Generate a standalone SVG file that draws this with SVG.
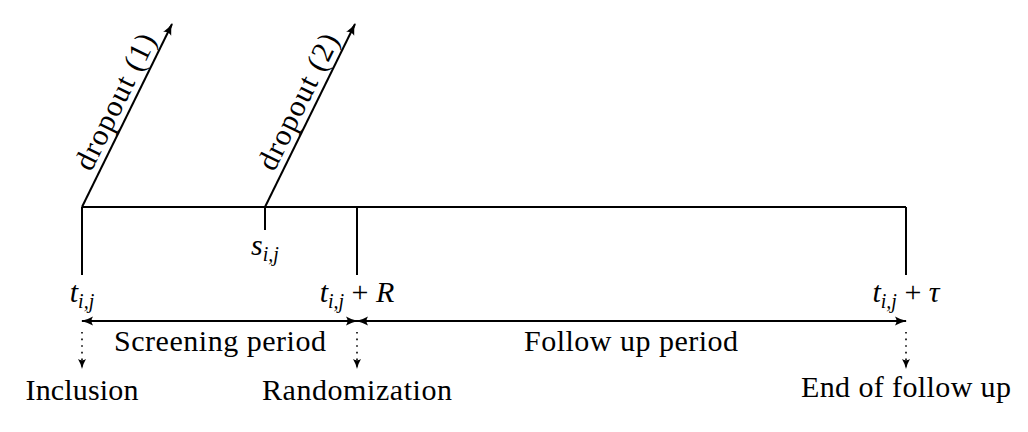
<svg xmlns="http://www.w3.org/2000/svg" width="1028" height="432" viewBox="0 0 1028 432">
<style>
  .ln { stroke: #000; stroke-width: 2; fill: none; }
  .dot { stroke: #000; stroke-width: 1.6; fill: none; stroke-dasharray: 1.6 5; }
</style>
<defs>
  <marker id="ah" viewBox="0 0 12 10" refX="11" refY="5" markerWidth="12" markerHeight="10" markerUnits="userSpaceOnUse" orient="auto-start-reverse">
    <path d="M0,0.5 Q6,4 12,5 Q6,6 0,9.5 Q3,5 0,0.5 Z" fill="#000"/>
  </marker>
  <marker id="ahs" viewBox="0 0 10 10" refX="9" refY="5" markerWidth="10" markerHeight="10" markerUnits="userSpaceOnUse" orient="auto">
    <path d="M0,1 Q5,4 10,5 Q5,6 0,9 Q2.5,5 0,1 Z" fill="#000"/>
  </marker>
</defs>
<g id="timeline">
  <path class="ln" d="M82,207 H906 M82,207 V275 M357,207 V275 M906,207 V275 M265,207 V230"/>
</g>
<g id="connectors">
  <line class="ln" x1="82" y1="207" x2="172" y2="24" marker-end="url(#ah)"/>
  <line class="ln" x1="265" y1="207" x2="355" y2="24" marker-end="url(#ah)"/>
  <line class="ln" x1="82" y1="321" x2="357" y2="321" marker-start="url(#ah)" marker-end="url(#ah)"/>
  <line class="ln" x1="357" y1="321" x2="906" y2="321" marker-start="url(#ah)" marker-end="url(#ah)"/>
  <line class="dot" x1="82" y1="332" x2="82" y2="368" marker-end="url(#ahs)"/>
  <line class="dot" x1="357" y1="332" x2="357" y2="368" marker-end="url(#ahs)"/>
  <line class="dot" x1="906" y1="332" x2="906" y2="368" marker-end="url(#ahs)"/>
</g>
<g id="dropout1">
  <text font-family="Liberation Serif" font-size="30" text-anchor="middle" transform="translate(124,106) rotate(-63.8)" textLength="148" lengthAdjust="spacing">dropout (1)</text>
</g>
<g id="dropout2">
  <text font-family="Liberation Serif" font-size="30" text-anchor="middle" transform="translate(307,106) rotate(-63.8)" textLength="148" lengthAdjust="spacing">dropout (2)</text>
</g>
<g id="s-label">
  <text font-family="Liberation Serif" font-size="30" x="265" y="255" text-anchor="middle"><tspan font-style="italic">s</tspan><tspan font-size="20" font-style="italic" dy="6">i,j</tspan></text>
</g>
<g id="t-label">
  <text font-family="Liberation Serif" font-size="30" x="82" y="302" text-anchor="middle"><tspan font-style="italic">t</tspan><tspan font-size="20" font-style="italic" dy="6">i,j</tspan></text>
</g>
<g id="tR-label">
  <text font-family="Liberation Serif" font-size="30" x="357" y="302" text-anchor="middle"><tspan font-style="italic">t</tspan><tspan font-size="20" font-style="italic" dy="6">i,j</tspan><tspan dy="-6"> + </tspan><tspan font-style="italic">R</tspan></text>
</g>
<g id="ttau-label">
  <text font-family="Liberation Serif" font-size="30" x="906" y="302" text-anchor="middle"><tspan font-style="italic">t</tspan><tspan font-size="20" font-style="italic" dy="6">i,j</tspan><tspan dy="-6"> + </tspan><tspan font-family="Liberation Serif" font-style="italic">&#964;</tspan></text>
</g>
<g id="screening">
  <text font-family="Liberation Serif" font-size="30" x="220" y="351" text-anchor="middle" textLength="212" lengthAdjust="spacing">Screening period</text>
</g>
<g id="followup">
  <text font-family="Liberation Serif" font-size="30" x="631" y="351" text-anchor="middle" textLength="214" lengthAdjust="spacing">Follow up period</text>
</g>
<g id="inclusion">
  <text font-family="Liberation Serif" font-size="30" x="82" y="400" text-anchor="middle" textLength="113" lengthAdjust="spacing">Inclusion</text>
</g>
<g id="randomization">
  <text font-family="Liberation Serif" font-size="30" x="357" y="400" text-anchor="middle" textLength="190" lengthAdjust="spacing">Randomization</text>
</g>
<g id="end">
  <text font-family="Liberation Serif" font-size="30" x="906" y="397" text-anchor="middle" textLength="210" lengthAdjust="spacing">End of follow up</text>
</g>
</svg>
